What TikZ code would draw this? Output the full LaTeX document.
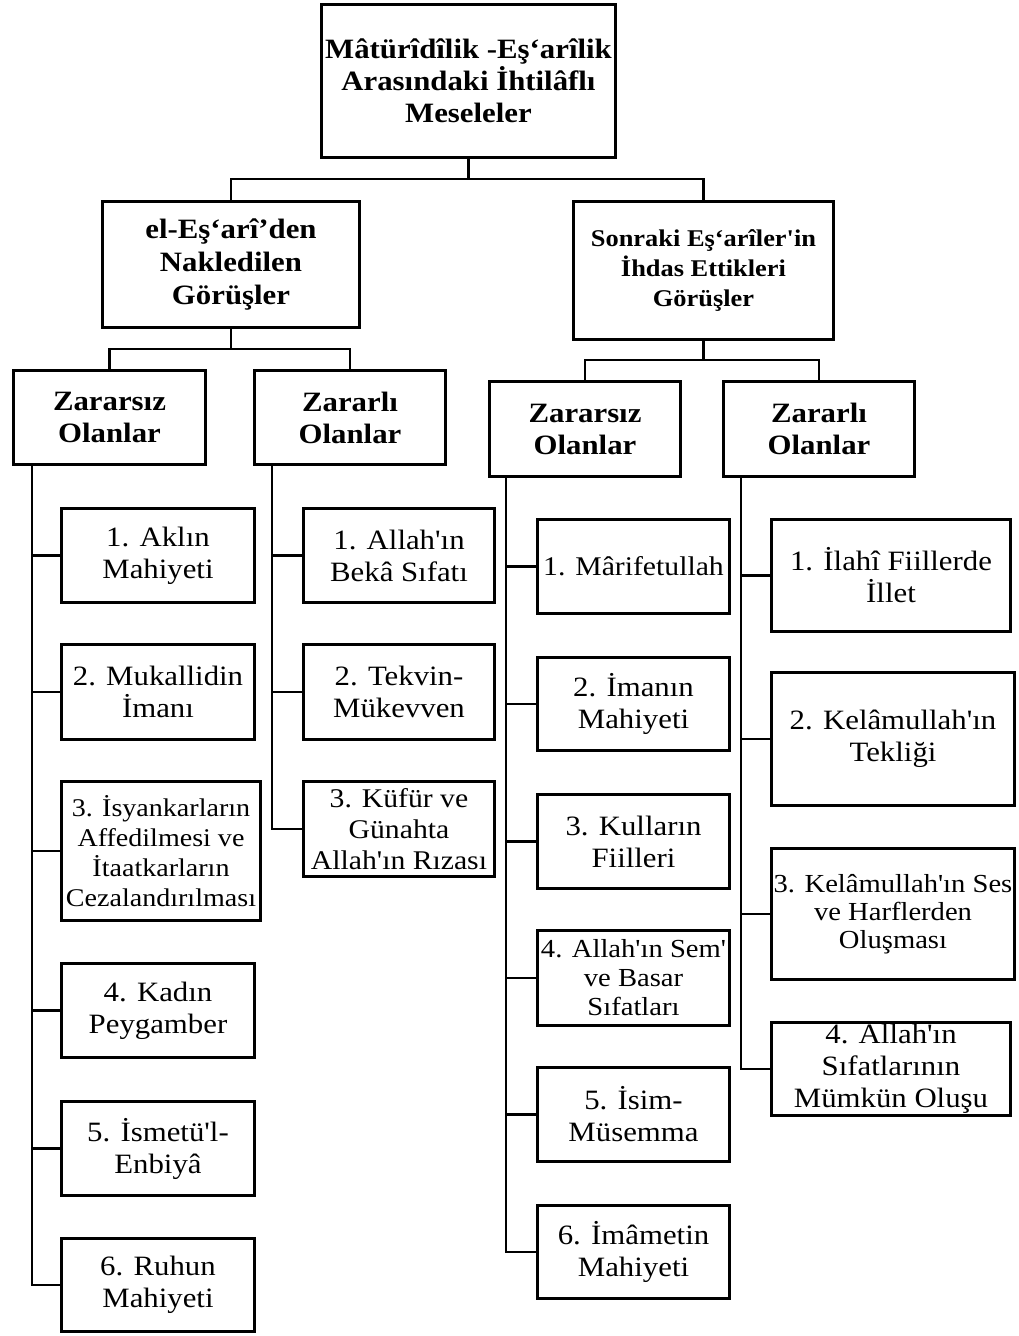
\documentclass[tikz,border=0pt]{standalone}
\usepackage{fontspec}
\setmainfont{Liberation Serif}[FakeStretch=1.1, Ligatures=TeXOff]
\begin{document}
\begin{tikzpicture}[x=1pt,y=-1pt,
  box/.style={draw, line width=2.6pt, inner sep=0pt, align=center},
  sz/.style 2 args={minimum width=#1pt-2.6pt, minimum height=#2pt-2.6pt},
  hd/.style={font=\bfseries\fontsize{28}{32}\selectfont},
  tx/.style={font=\fontsize{28}{32}\selectfont},
  wire/.style={line width=2.6pt, line join=miter}]
\useasboundingbox (0,0) rectangle (1019,1336);
% level 0
\node[box,hd,sz={297}{156}] (top) at (468.5,81) {Mâtürîdîlik -Eş‘arîlik\\Arasındaki İhtilâflı\\Meseleler};
% level 1
\node[box,hd,sz={260}{129},font=\bfseries\fontsize{28}{33}\selectfont] (L1) at (231,264.5) {el-Eş‘arî’den\\Nakledilen\\Görüşler};
\node[box,hd,sz={263}{141},font=\bfseries\fontsize{24}{30}\selectfont] (R1) at (703.5,270.5) {Sonraki Eş‘arîler'in\\İhdas Ettikleri\\Görüşler};
% level 2
\node[box,hd,sz={195}{97}] (ZL) at (109.5,417.5) {Zararsız\\Olanlar};
\node[box,hd,sz={194}{97}] (RL) at (350,417.5) {Zararlı\\Olanlar};
\node[box,hd,sz={194}{98}] (ZR) at (585,429) {Zararsız\\Olanlar};
\node[box,hd,sz={194}{98}] (RR) at (819,429) {Zararlı\\Olanlar};
% left harmless
\node[box,tx,sz={196}{97}] (a1) at (158,555.5) {1. Aklın\\Mahiyeti};
\node[box,tx,sz={196}{98}] (a2) at (158,692) {2. Mukallidin\\İmanı};
\node[box,tx,sz={202}{142},font=\fontsize{25.5}{30}\selectfont] (a3) at (161,851) {3. İsyankarların\\Affedilmesi ve\\İtaatkarların\\Cezalandırılması};
\node[box,tx,sz={196}{97}] (a4) at (158,1010.5) {4. Kadın\\Peygamber};
\node[box,tx,sz={196}{97}] (a5) at (158,1148.5) {5. İsmetü'l-\\Enbiyâ};
\node[box,tx,sz={196}{96}] (a6) at (158,1285) {6. Ruhun\\Mahiyeti};
% left harmful
\node[box,tx,sz={194}{97}] (b1) at (399,555.5) {1. Allah'ın\\Bekâ Sıfatı};
\node[box,tx,sz={194}{98}] (b2) at (399,692) {2. Tekvin-\\Mükevven};
\node[box,tx,sz={194}{98},font=\fontsize{27}{31}\selectfont] (b3) at (399,829) {3. Küfür ve\\Günahta\\Allah'ın Rızası};
% right harmless
\node[box,tx,sz={195}{97},font=\fontsize{27}{32}\selectfont] (c1) at (633.5,566.5) {1. Mârifetullah};
\node[box,tx,sz={195}{96}] (c2) at (633.5,704) {2. İmanın\\Mahiyeti};
\node[box,tx,sz={195}{97}] (c3) at (633.5,841.5) {3. Kulların\\Fiilleri};
\node[box,tx,sz={195}{98},font=\fontsize{26}{29}\selectfont] (c4) at (633.5,978) {4. Allah'ın Sem'\\ve Basar\\Sıfatları};
\node[box,tx,sz={195}{97}] (c5) at (633.5,1114.5) {5. İsim-\\Müsemma};
\node[box,tx,sz={195}{96}] (c6) at (633.5,1252) {6. İmâmetin\\Mahiyeti};
% right harmful
\node[box,tx,sz={242}{115}] (d1) at (891,575.5) {1. İlahî Fiillerde\\İllet};
\node[box,tx,sz={246}{136}] (d2) at (893,739) {2. Kelâmullah'ın\\Tekliği};
\node[box,tx,sz={246}{134},font=\fontsize{26}{28}\selectfont] (d3) at (893,914) {3. Kelâmullah'ın Ses\\ve Harflerden\\Oluşması};
\node[box,tx,sz={242}{96}] (d4) at (891,1069) {4. Allah'ın\\Sıfatlarının\\Mümkün Oluşu};
% connectors top
\draw[wire] (top.south) -- ++(0,20) coordinate (j0);
\draw[wire] (L1.north) |- (j0) -| (R1.north);
\draw[wire] (L1.south) -- ++(0,20) coordinate (j1);
\draw[wire] (ZL.north) |- (j1) -| (RL.north);
\draw[wire] (R1.south) -- ++(0,19) coordinate (j2);
\draw[wire] (ZR.north) |- (j2) -| (RR.north);
% trunks
\foreach \n in {a1,a2,a3,a4,a5,a6}{\draw[wire] ([xshift=20pt]ZL.south west) |- (\n.west);}
\foreach \n in {b1,b2,b3}{\draw[wire] ([xshift=19pt]RL.south west) |- (\n.west);}
\foreach \n in {c1,c2,c3,c4,c5,c6}{\draw[wire] ([xshift=18pt]ZR.south west) |- (\n.west);}
\foreach \n in {d1,d2,d3,d4}{\draw[wire] ([xshift=19pt]RR.south west) |- (\n.west);}
\end{tikzpicture}
\end{document}
